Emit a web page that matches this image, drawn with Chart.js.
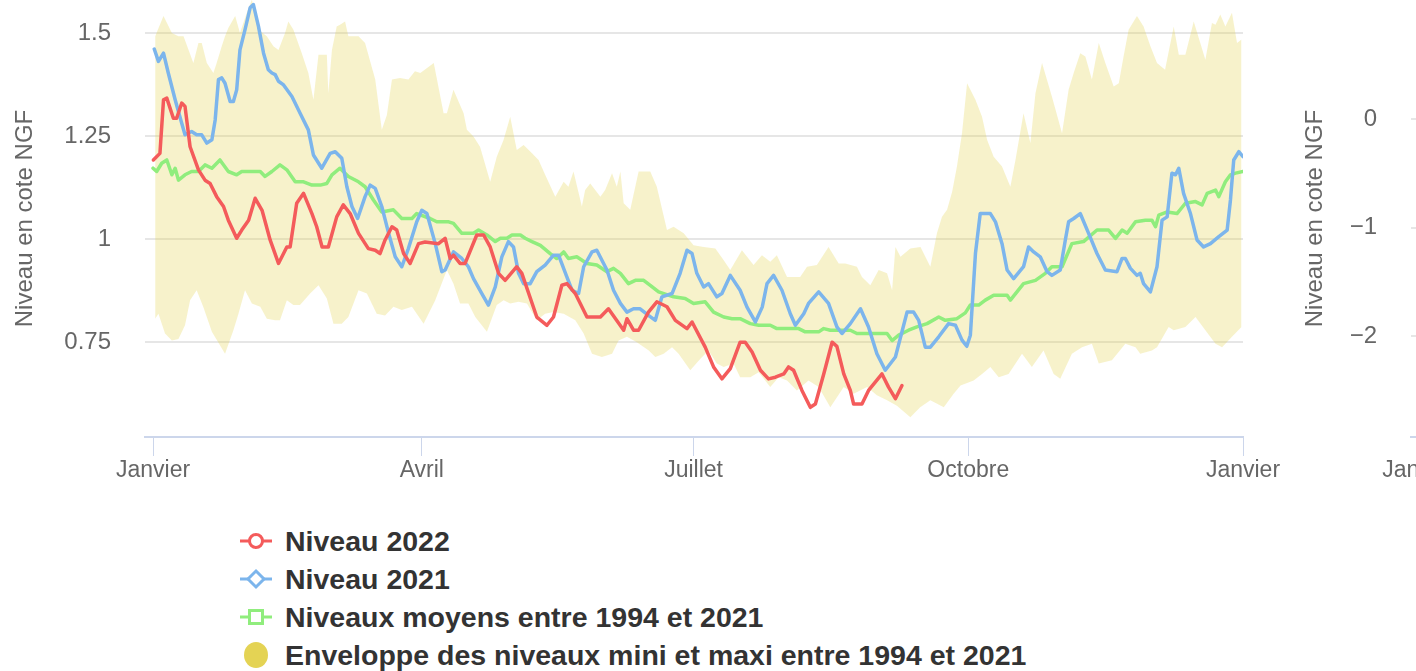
<!DOCTYPE html>
<html lang="fr">
<head>
<meta charset="utf-8">
<script src="https://cdn.jsdelivr.net/npm/chart.js@4.4.1/dist/chart.umd.min.js"></script>
<style>
html, body { margin: 0; padding: 0; background: #fff; overflow: hidden; width: 1416px; height: 671px; }
#principal { position: absolute; left: 0; top: 0; }
#voisin { position: absolute; left: 1290px; top: 0; }
#legende { position: absolute; left: 238px; top: 522px; font: bold 28.5px "Liberation Sans", Arial, sans-serif; color: #333; }
.item { display: flex; align-items: center; height: 38px; white-space: nowrap; }
.item svg { width: 36px; height: 28px; margin-right: 11px; flex: none; }
</style>
</head>
<body>
<canvas id="principal" width="1300" height="500"></canvas>
<canvas id="voisin" width="1300" height="500"></canvas>
<div id="legende"></div>
<script>
// jours depuis le 1er janvier
const moisJours = [0, 90, 181, 273, 365];
const moisLabels = ['Janvier', 'Avril', 'Juillet', 'Octobre', 'Janvier'];

const jours2022 = [0.1, 2.3, 3.5, 4.6, 6.8, 7.9, 9.6, 10.7, 12.4, 15.2, 17.4, 19.1, 21.3, 23.6, 25.2, 28.0, 29.7, 32.0, 34.2, 36.5,
  39.2, 42.0, 44.8, 45.9, 48.1, 50.4, 53.2, 54.8, 56.6, 58.7, 61.5, 63.7, 66.0, 68.8, 72.1, 74.4, 76.0, 77.7, 80.0, 81.6,
  83.9, 86.1, 88.9, 91.1, 95.6, 97.8, 99.5, 100.6, 102.8, 104.5, 108.4, 110.7, 112.9, 115.7, 117.9, 121.8, 123.5, 128.5, 131.9, 134.1,
  136.9, 138.6, 141.4, 145.3, 149.8, 152.5, 157.6, 158.7, 160.9, 162.6, 165.9, 168.7, 172.1, 174.9, 178.8, 180.5, 184.9, 187.7, 190.5, 193.3,
  196.6, 198.3, 200.6, 203.4, 206.1, 208.4, 211.2, 212.8, 214.5, 217.3, 220.1, 221.8, 224.6, 227.4, 229.0, 231.3, 233.5, 234.6, 237.4, 239.6,
  244.1, 246.3, 248.6, 250.8];
const niveau2022 = [1.192, 1.208, 1.338, 1.342, 1.293, 1.293, 1.330, 1.322, 1.224, 1.168, 1.143, 1.135, 1.103, 1.079, 1.046, 1.002, 1.022, 1.046, 1.099, 1.070,
  0.998, 0.941, 0.981, 0.981, 1.087, 1.111, 1.062, 1.030, 0.981, 0.981, 1.054, 1.083, 1.062, 1.014, 0.977, 0.973, 0.965, 0.998, 1.030, 1.022,
  0.965, 0.941, 0.989, 0.993, 0.989, 1.002, 0.953, 0.961, 0.941, 0.941, 1.010, 1.010, 0.981, 0.917, 0.900, 0.933, 0.917, 0.811, 0.791, 0.811,
  0.888, 0.892, 0.868, 0.811, 0.811, 0.831, 0.779, 0.807, 0.779, 0.779, 0.823, 0.848, 0.836, 0.803, 0.783, 0.799, 0.738, 0.690, 0.661, 0.686,
  0.750, 0.750, 0.726, 0.682, 0.661, 0.665, 0.673, 0.690, 0.682, 0.633, 0.592, 0.600, 0.673, 0.750, 0.740, 0.673, 0.633, 0.600, 0.600, 0.633,
  0.673, 0.641, 0.613, 0.645];

const jours2021 = [0.4, 1.8, 3.5, 5.1, 7.4, 9.6, 10.7, 12.9, 14.6, 16.3, 18.0, 19.7, 20.8, 21.9, 23.0, 24.1, 25.8, 26.9, 28.0, 29.1,
  30.8, 32.5, 33.6, 35.3, 37.0, 38.6, 39.8, 40.9, 42.0, 43.7, 46.5, 49.2, 52.0, 53.7, 56.5, 59.3, 61.0, 63.2, 64.9, 66.6,
  68.5, 71.0, 72.7, 74.4, 76.6, 78.9, 81.1, 83.3, 85.5, 88.3, 90.0, 91.7, 94.5, 96.7, 97.8, 100.6, 103.4, 105.6, 107.3, 110.1,
  112.3, 114.6, 116.8, 119.0, 120.7, 122.4, 124.1, 126.3, 128.5, 131.3, 134.1, 135.8, 138.6, 140.3, 142.5, 144.2, 147.0, 148.6, 152.0, 154.2,
  156.5, 158.7, 160.9, 163.1, 165.9, 168.2, 170.4, 173.8, 176.5, 178.8, 180.5, 182.1, 184.4, 186.0, 188.8, 190.5, 193.3, 196.6, 198.9, 201.7,
  204.0, 205.6, 207.8, 210.6, 213.4, 215.1, 217.9, 219.5, 222.9, 226.2, 229.0, 230.7, 233.5, 236.9, 239.6, 242.4, 245.2, 248.6, 252.5, 254.7,
  256.4, 258.6, 260.3, 263.1, 266.4, 268.7, 270.9, 272.5, 273.7, 275.4, 277.0, 278.7, 280.4, 282.1, 284.3, 286.0, 288.2, 291.5, 293.2, 294.9,
  297.1, 299.4, 301.0, 303.8, 305.5, 306.6, 308.3, 310.5, 313.3, 316.1, 318.9, 322.8, 324.5, 325.6, 327.3, 329.5, 330.6, 331.7, 334.0, 336.2,
  337.9, 339.6, 341.2, 342.4, 343.5, 345.1, 347.4, 349.6, 351.8, 354.1, 356.9, 359.7, 360.8, 361.9, 363.6, 365.0];
const niveau2021 = [1.461, 1.431, 1.451, 1.403, 1.338, 1.281, 1.253, 1.261, 1.253, 1.253, 1.233, 1.241, 1.289, 1.387, 1.391, 1.378, 1.334, 1.334, 1.362, 1.459,
  1.508, 1.561, 1.569, 1.516, 1.451, 1.411, 1.403, 1.399, 1.383, 1.374, 1.346, 1.306, 1.265, 1.204, 1.172, 1.208, 1.212, 1.196, 1.127, 1.079,
  1.050, 1.103, 1.131, 1.123, 1.079, 1.014, 0.957, 0.933, 0.977, 1.042, 1.070, 1.062, 0.989, 0.921, 0.925, 0.969, 0.953, 0.933, 0.904, 0.868,
  0.840, 0.884, 0.957, 0.994, 0.981, 0.917, 0.892, 0.892, 0.921, 0.937, 0.961, 0.961, 0.908, 0.876, 0.868, 0.933, 0.969, 0.973, 0.925, 0.876,
  0.844, 0.823, 0.831, 0.831, 0.815, 0.803, 0.860, 0.868, 0.917, 0.973, 0.965, 0.917, 0.884, 0.892, 0.860, 0.868, 0.912, 0.876, 0.835, 0.799,
  0.835, 0.892, 0.912, 0.876, 0.819, 0.791, 0.819, 0.844, 0.872, 0.844, 0.787, 0.771, 0.795, 0.831, 0.787, 0.722, 0.682, 0.714, 0.823, 0.823,
  0.803, 0.738, 0.738, 0.763, 0.795, 0.791, 0.755, 0.740, 0.767, 0.965, 1.062, 1.062, 1.062, 1.042, 0.989, 0.925, 0.904, 0.933, 0.981, 0.969,
  0.957, 0.921, 0.912, 0.925, 0.998, 1.042, 1.050, 1.062, 1.014, 0.965, 0.925, 0.921, 0.953, 0.953, 0.929, 0.912, 0.917, 0.892, 0.872, 0.933,
  1.046, 1.054, 1.160, 1.156, 1.172, 1.111, 1.062, 0.998, 0.981, 0.989, 1.006, 1.022, 1.095, 1.192, 1.212, 1.200];

const joursMoyen = [0.0, 1.2, 2.9, 4.6, 6.3, 7.4, 8.5, 10.7, 12.9, 15.2, 17.4, 19.7, 22.4, 25.2, 28.0, 29.7, 35.9, 37.5, 39.8, 42.5,
  44.8, 47.6, 50.4, 53.2, 56.0, 58.2, 59.9, 62.6, 65.4, 68.8, 71.0, 73.8, 76.6, 80.5, 83.3, 86.7, 88.3, 92.8, 95.0, 99.0,
  100.6, 103.4, 107.3, 109.0, 111.8, 114.6, 116.3, 118.5, 120.2, 123.0, 124.6, 126.9, 129.7, 133.0, 135.2, 137.5, 139.1, 141.9, 145.3, 148.6,
  152.0, 154.2, 156.5, 159.2, 161.5, 164.3, 166.5, 169.3, 174.3, 178.2, 181.0, 184.9, 187.7, 191.1, 193.9, 196.6, 200.0, 202.8, 206.7, 208.9,
  216.2, 218.4, 222.9, 224.6, 226.8, 229.0, 233.5, 235.7, 240.8, 245.8, 247.5, 249.7, 253.0, 255.8, 259.2, 263.1, 265.3, 269.2, 272.0, 273.7,
  276.5, 278.7, 281.5, 286.0, 287.1, 291.5, 295.5, 298.8, 301.0, 304.4, 307.7, 311.6, 316.1, 320.0, 322.3, 324.5, 326.2, 329.0, 332.3, 334.5,
  335.7, 336.8, 339.6, 342.9, 345.7, 349.1, 351.3, 353.0, 355.8, 356.9, 359.1, 360.8, 362.5, 365.0];
const niveauMoyen = [1.172, 1.164, 1.184, 1.192, 1.156, 1.172, 1.143, 1.156, 1.164, 1.164, 1.180, 1.172, 1.192, 1.164, 1.156, 1.164, 1.164, 1.152, 1.164, 1.180,
  1.168, 1.139, 1.139, 1.131, 1.131, 1.135, 1.156, 1.172, 1.152, 1.139, 1.127, 1.095, 1.066, 1.071, 1.050, 1.050, 1.062, 1.050, 1.042, 1.042,
  1.038, 1.014, 1.014, 1.022, 1.010, 0.994, 1.002, 1.002, 1.010, 1.010, 1.002, 0.994, 0.985, 0.965, 0.953, 0.969, 0.953, 0.957, 0.941, 0.937,
  0.921, 0.929, 0.917, 0.892, 0.900, 0.900, 0.888, 0.872, 0.860, 0.856, 0.844, 0.848, 0.823, 0.811, 0.807, 0.807, 0.795, 0.791, 0.791, 0.783,
  0.783, 0.775, 0.775, 0.783, 0.779, 0.779, 0.779, 0.771, 0.771, 0.771, 0.754, 0.767, 0.779, 0.787, 0.795, 0.811, 0.803, 0.807, 0.821, 0.840,
  0.840, 0.852, 0.864, 0.864, 0.852, 0.892, 0.900, 0.917, 0.933, 0.933, 0.989, 0.994, 1.022, 1.022, 1.002, 1.022, 1.014, 1.042, 1.046, 1.046,
  1.030, 1.058, 1.066, 1.062, 1.087, 1.091, 1.083, 1.111, 1.119, 1.103, 1.139, 1.156, 1.160, 1.164];

const joursMax = [0.7, 3.5, 6.3, 8.5, 10.2, 13.5, 15.2, 16.3, 18.0, 20.2, 21.3, 23.0, 24.1, 25.2, 27.5, 29.1, 31.4, 33.1, 35.3, 38.1,
  40.3, 42.0, 44.2, 45.3, 47.0, 49.8, 52.0, 53.7, 55.4, 58.2, 58.7, 59.9, 61.5, 62.6, 64.3, 65.4, 68.8, 71.0, 74.4, 76.6,
  78.3, 80.0, 82.7, 85.5, 87.7, 89.5, 94.0, 97.3, 98.4, 100.6, 104.0, 105.1, 107.3, 109.5, 112.9, 115.1, 117.4, 119.6, 121.8, 124.1,
  126.9, 129.1, 131.3, 134.7, 137.5, 139.1, 140.8, 143.6, 144.7, 146.4, 149.8, 151.4, 153.7, 155.3, 156.5, 157.6, 159.8, 162.6, 166.5, 168.7,
  172.1, 174.3, 177.7, 181.0, 184.4, 188.3, 191.1, 193.3, 197.2, 201.1, 203.9, 206.7, 208.9, 212.3, 216.7, 219.0, 222.3, 226.2, 229.6, 231.8,
  235.7, 237.4, 240.2, 243.0, 245.8, 247.5, 248.6, 250.3, 253.6, 257.0, 260.3, 262.5, 264.2, 265.9, 267.6, 269.2, 270.9, 272.6, 275.4, 277.6,
  279.3, 281.5, 284.3, 287.1, 288.8, 291.5, 293.8, 295.5, 297.7, 301.0, 304.4, 306.6, 308.3, 310.5, 312.2, 314.4, 316.7, 318.9, 321.7, 323.4,
  325.0, 326.7, 329.5, 331.7, 334.0, 336.2, 338.9, 341.8, 343.5, 345.7, 348.5, 350.7, 352.4, 354.6, 355.8, 357.4, 359.1, 361.3, 363.0, 364.5];
const enveloppeMax = [1.492, 1.541, 1.500, 1.492, 1.492, 1.427, 1.476, 1.476, 1.427, 1.403, 1.427, 1.468, 1.492, 1.512, 1.541, 1.500, 1.549, 1.581, 1.508, 1.492,
  1.468, 1.459, 1.500, 1.528, 1.508, 1.451, 1.403, 1.338, 1.447, 1.447, 1.354, 1.459, 1.516, 1.520, 1.528, 1.492, 1.492, 1.476, 1.387, 1.265,
  1.301, 1.387, 1.391, 1.387, 1.407, 1.403, 1.427, 1.305, 1.305, 1.362, 1.305, 1.265, 1.249, 1.224, 1.139, 1.200, 1.241, 1.297, 1.216, 1.228,
  1.208, 1.192, 1.156, 1.103, 1.139, 1.127, 1.164, 1.079, 1.119, 1.135, 1.103, 1.119, 1.160, 1.127, 1.164, 1.087, 1.071, 1.164, 1.164, 1.127,
  1.022, 1.030, 1.014, 0.985, 0.981, 0.977, 0.949, 0.925, 0.973, 0.937, 0.961, 0.945, 0.961, 0.908, 0.908, 0.933, 0.937, 0.981, 0.941, 0.941,
  0.933, 0.908, 0.888, 0.925, 0.917, 0.876, 0.981, 0.957, 0.977, 0.981, 0.933, 1.014, 1.054, 1.071, 1.115, 1.176, 1.257, 1.378, 1.338, 1.297,
  1.241, 1.200, 1.176, 1.127, 1.192, 1.305, 1.233, 1.354, 1.427, 1.346, 1.257, 1.362, 1.403, 1.451, 1.443, 1.387, 1.476, 1.427, 1.370, 1.378,
  1.443, 1.508, 1.541, 1.516, 1.468, 1.427, 1.411, 1.516, 1.447, 1.447, 1.528, 1.476, 1.435, 1.524, 1.520, 1.545, 1.516, 1.549, 1.476, 1.484];

const joursMin = [0.7, 1.8, 4.0, 6.3, 8.5, 10.7, 12.4, 14.6, 16.8, 19.7, 24.1, 26.9, 28.6, 30.8, 33.1, 35.9, 38.1, 40.9, 42.5, 44.8,
  47.0, 49.2, 52.6, 55.4, 58.2, 60.4, 63.2, 65.4, 68.8, 71.6, 74.9, 77.7, 80.5, 83.3, 86.7, 90.6, 94.5, 98.4, 100.6, 102.8,
  105.6, 107.9, 111.8, 115.1, 117.4, 119.6, 122.4, 125.2, 128.5, 131.3, 134.1, 137.5, 141.4, 144.2, 147.0, 150.3, 153.7, 155.9, 158.7, 162.0,
  166.0, 168.2, 171.0, 173.8, 176.0, 179.9, 183.3, 186.0, 188.8, 191.1, 194.4, 196.6, 200.0, 202.8, 206.7, 209.5, 212.3, 215.6, 219.5, 222.9,
  226.8, 231.3, 234.6, 239.1, 242.4, 245.8, 249.1, 253.6, 256.9, 260.3, 264.8, 268.1, 270.4, 274.8, 277.6, 280.4, 283.2, 286.5, 291.0, 294.3,
  298.2, 301.6, 303.8, 307.7, 311.1, 314.4, 316.7, 321.1, 325.6, 329.0, 330.6, 334.5, 336.2, 340.1, 341.8, 345.7, 349.1, 352.4, 355.8, 358.0,
  361.3, 364.5];
const enveloppeMin = [0.807, 0.819, 0.771, 0.754, 0.758, 0.791, 0.852, 0.876, 0.836, 0.775, 0.722, 0.779, 0.819, 0.876, 0.844, 0.836, 0.807, 0.803, 0.803, 0.852,
  0.840, 0.840, 0.868, 0.888, 0.856, 0.795, 0.795, 0.811, 0.876, 0.868, 0.819, 0.815, 0.836, 0.828, 0.836, 0.795, 0.852, 0.925, 0.892, 0.844,
  0.844, 0.811, 0.775, 0.840, 0.852, 0.844, 0.848, 0.844, 0.803, 0.819, 0.823, 0.819, 0.803, 0.771, 0.722, 0.714, 0.722, 0.754, 0.763, 0.750,
  0.730, 0.714, 0.722, 0.738, 0.722, 0.682, 0.710, 0.730, 0.698, 0.690, 0.698, 0.665, 0.665, 0.677, 0.641, 0.665, 0.657, 0.633, 0.657, 0.641,
  0.592, 0.641, 0.625, 0.641, 0.621, 0.609, 0.596, 0.568, 0.592, 0.609, 0.592, 0.625, 0.645, 0.657, 0.673, 0.690, 0.665, 0.673, 0.722, 0.690,
  0.730, 0.673, 0.661, 0.722, 0.738, 0.746, 0.698, 0.706, 0.746, 0.738, 0.722, 0.730, 0.738, 0.787, 0.779, 0.787, 0.811, 0.779, 0.746, 0.738,
  0.763, 0.787];

const series = [
  { label: 'Niveau 2022', couleur: '#f45b5b', symbole: 'cercle' },
  { label: 'Niveau 2021', couleur: '#7cb5ec', symbole: 'losange' },
  { label: 'Niveaux moyens entre 1994 et 2021', couleur: '#90ed7d', symbole: 'carre' },
  { label: 'Enveloppe des niveaux mini et maxi entre 1994 et 2021', couleur: '#e4d354', symbole: 'aire' }
];

const points = (xs, ys) => xs.map((x, i) => ({ x: x, y: ys[i] }));

Chart.defaults.font.family = '"Liberation Sans", Arial, sans-serif';
Chart.defaults.color = '#666';

function axeX() {
  return {
    type: 'linear', min: -2.7, max: 365,
    afterBuildTicks: ax => { ax.ticks = moisJours.map(v => ({ value: v })); },
    afterFit: ax => { ax.height = 63; },
    ticks: { callback: (v, i) => moisLabels[i], font: { size: 23 }, padding: 1, color: '#666', maxRotation: 0, autoSkip: false },
    grid: { drawOnChartArea: false, drawTicks: true, tickLength: 19, color: '#ccd6eb', lineWidth: 1 },
    border: { color: '#ccd6eb', width: 2 }
  };
}

// axe vertical : étiquettes à 34 px de la grille, sans marge haute
function axeY(min, max, pas, largeur, format) {
  return {
    min: min, max: max,
    afterFit: ax => { ax.width = largeur; ax.paddingTop = 0; ax.paddingBottom = 0; },
    ticks: { stepSize: pas, includeBounds: false, padding: 0, font: { size: 24 }, callback: format },
    grid: { color: '#e6e6e6', lineWidth: 2, drawTicks: true, tickLength: 34, tickColor: 'rgba(0,0,0,0)' },
    border: { display: false },
    title: { display: true, text: 'Niveau en cote NGF', font: { size: 24 }, color: '#666', padding: { top: 11, bottom: 0 } }
  };
}

const lignes = (d, couleur, ordre) => ({
  data: d, borderColor: couleur, borderWidth: 3.5, borderJoinStyle: 'round', borderCapStyle: 'round',
  pointRadius: 0, fill: false, tension: 0, order: ordre
});

const yPrincipal = axeY(0.52, 1.58, 0.25, 145, v => String(Math.round(v * 100) / 100));

new Chart(document.getElementById('principal'), {
  type: 'line',
  data: {
    datasets: [
      Object.assign({ label: series[0].label }, lignes(points(jours2022, niveau2022), series[0].couleur, 0)),
      Object.assign({ label: series[1].label }, lignes(points(jours2021, niveau2021), series[1].couleur, 1)),
      Object.assign({ label: series[2].label }, lignes(points(joursMoyen, niveauMoyen), series[2].couleur, 2)),
      { label: 'max', data: points(joursMax, enveloppeMax), borderWidth: 0, pointRadius: 0,
        backgroundColor: 'rgba(228, 211, 84, 0.3)', fill: '+1', order: 3 },
      { label: 'min', data: points(joursMin, enveloppeMin), borderWidth: 0, pointRadius: 0, fill: false, order: 4 }
    ]
  },
  options: {
    responsive: false, animation: false, events: [],
    layout: { padding: { left: 0, right: 57, top: 0, bottom: 0 } },
    plugins: { legend: { display: false }, tooltip: { enabled: false } },
    scales: { x: axeX(), y: yPrincipal }
  }
});

// second graphique, coupé par le bord droit
const yVoisin = axeY(-2.93, 1.1, 1, 121, v => v < 0 ? '\u2212' + Math.abs(v) : String(v));
yVoisin.afterBuildTicks = ax => { ax.ticks = ax.ticks.filter(t => t.value <= 0); };

new Chart(document.getElementById('voisin'), {
  type: 'line',
  data: { datasets: [] },
  options: {
    responsive: false, animation: false, events: [],
    layout: { padding: { left: 0, right: 57, top: 0, bottom: 0 } },
    plugins: { legend: { display: false }, tooltip: { enabled: false } },
    scales: { x: axeX(), y: yVoisin }
  }
});

const legende = document.getElementById('legende');
series.forEach(s => {
  let forme;
  if (s.symbole === 'cercle') forme = `<circle cx="18" cy="14" r="6.5" fill="#fff" stroke="${s.couleur}" stroke-width="3"/>`;
  else if (s.symbole === 'losange') forme = `<polygon points="18,6 26,14 18,22 10,14" fill="#fff" stroke="${s.couleur}" stroke-width="3"/>`;
  else if (s.symbole === 'carre') forme = `<rect x="11.5" y="7.5" width="13" height="13" fill="#fff" stroke="${s.couleur}" stroke-width="3"/>`;
  else forme = `<ellipse cx="18" cy="14" rx="12" ry="13" fill="${s.couleur}"/>`;
  const trait = s.symbole === 'aire' ? '' : `<line x1="2" y1="14" x2="34" y2="14" stroke="${s.couleur}" stroke-width="3"/>`;
  const div = document.createElement('div');
  div.className = 'item';
  div.innerHTML = `<svg viewBox="0 0 36 28">${trait}${forme}</svg><span>${s.label}</span>`;
  legende.appendChild(div);
});
</script>
</body>
</html>
